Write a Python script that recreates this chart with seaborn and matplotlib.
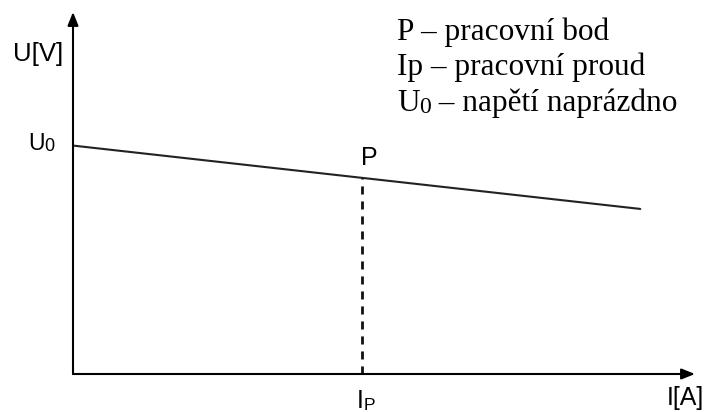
import seaborn as sns
import matplotlib
matplotlib.use("Agg")
import matplotlib.pyplot as plt

# load line of the source
I_line = [0.0, 9.12]
U_line = [6.31, 4.56]
I_P = 4.65          # working current
U_P = 5.41          # voltage at working point P
I_max = 10.0
U_max = 10.0

legend_lines = [
    [("P – pracovní bod", 22.5)],
    [("Ip – pracovní proud", 22.5)],
    [("U", 22.5), ("0", 17), (" – napětí naprázdno", 22.5)],
]
legend_y = [9.22, 8.25, 7.27]

sns.set_style("white")
SANS = "Liberation Sans"
SERIF = "Liberation Serif"


def parts_text(ax, x, y, parts, family):
    # text pieces of different size, placed one after another
    s, size = parts[0]
    prev = ax.text(x, y, s, fontsize=size, family=family, ha="left",
                   va="baseline", color="black", clip_on=False)
    for s, size in parts[1:]:
        prev = ax.annotate(s, xy=(1, 0), xycoords=prev, fontsize=size,
                           family=family, ha="left", va="bottom",
                           color="black", annotation_clip=False)
    return prev


fig = plt.figure(figsize=(7.09, 4.12), dpi=100)
ax = fig.add_axes([73 / 709, 38 / 412, 622 / 709, 362 / 412])
ax.set_xlim(0, I_max)
ax.set_ylim(0, U_max)
ax.axis("off")

# axes with arrows
arrow = dict(arrowstyle="-|>,head_length=0.8,head_width=0.32", lw=1.5,
             color="black", mutation_scale=10, shrinkA=0, shrinkB=0)
ax.annotate("", xy=(I_max, 0), xytext=(0, 0), arrowprops=arrow,
            annotation_clip=False)
ax.annotate("", xy=(0, U_max), xytext=(0, 0), arrowprops=arrow,
            annotation_clip=False)

# load line and working point
sns.lineplot(x=I_line, y=U_line, ax=ax, color="#222222", lw=1.5)
ax.plot([I_P, I_P], [0, U_P], color="#111111", lw=2.0,
        linestyle=(0, (2.9, 2.5)))

# labels
parts_text(ax, -0.96, 8.65, [("U[V]", 18.5)], SANS)
parts_text(ax, -0.72, 6.19, [("U", 16.5), ("0", 13)], SANS)
parts_text(ax, I_P - 0.02, 5.77, [("P", 18)], SANS)
parts_text(ax, 4.56, -0.94, [("I", 18), ("P", 12.5)], SANS)
parts_text(ax, 9.55, -0.86, [("I[A]", 18)], SANS)

for parts, y in zip(legend_lines, legend_y):
    parts_text(ax, 5.21, y, parts, SERIF)

plt.savefig("out.png", dpi=100)
